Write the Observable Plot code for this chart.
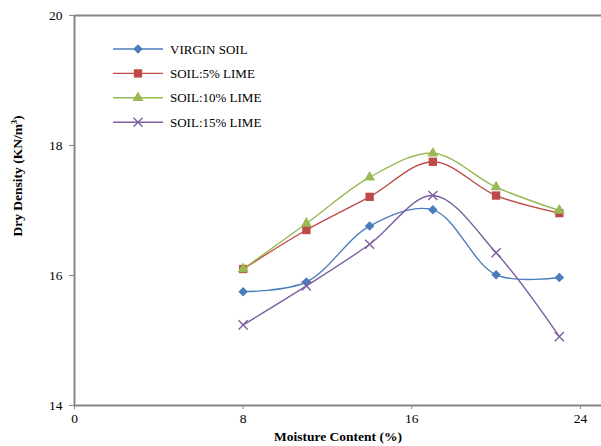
<!DOCTYPE html>
<html>
<head>
<meta charset="utf-8">
<script src="https://cdn.jsdelivr.net/npm/d3@7"></script>
<script src="https://cdn.jsdelivr.net/npm/@observablehq/plot@0.6"></script>
<style>
  html, body { margin: 0; padding: 0; background: #fff; }
  #chart { position: relative; width: 601px; height: 446px; }
</style>
</head>
<body>
<div id="chart"></div>
<script>
// Compaction results: dry density against moisture content
const moisture = [8, 11, 14, 17, 20, 23];
const virginSoil = [15.75, 15.90, 16.76, 17.01, 16.01, 15.97];
const lime5 = [16.10, 16.70, 17.21, 17.75, 17.23, 16.96];
const lime10 = [16.10, 16.80, 17.51, 17.88, 17.36, 17.00];
const lime15 = [15.24, 15.84, 16.48, 17.23, 16.35, 15.06];
const seriesNames = ["VIRGIN SOIL", "SOIL:5% LIME", "SOIL:10% LIME", "SOIL:15% LIME"];
const xTicks = [0, 8, 16, 24];
const yTicks = [14, 16, 18, 20];

const seriesStyle = [
  {values: virginSoil, color: "#4a7ebb", symbol: "diamond2", r: 4.3, filled: true},
  {values: lime5, color: "#be4b48", symbol: "square", r: 4.7, filled: true},
  {values: lime10, color: "#98b954", symbol: "triangle", r: 4.1, filled: true},
  {values: lime15, color: "#7d60a0", symbol: "times", r: 4.2, filled: false}
];

const rows = seriesStyle.flatMap((s, i) =>
  moisture.map((m, j) => ({series: seriesNames[i], x: m, y: s.values[j]})));

const axisGray = "#868686";

const marks = [
  Plot.ruleY([20], {stroke: axisGray, strokeWidth: 2}),
  Plot.axisX({ticks: xTicks, tickFormat: d => String(d), tickSize: 4, tickPadding: 4, stroke: axisGray, label: null, fontSize: 13.5}),
  Plot.axisY({ticks: yTicks, tickFormat: d => String(d), tickSize: 5, tickPadding: 7, stroke: axisGray, label: null, fontSize: 13.5}),
  Plot.ruleX([0], {stroke: axisGray, strokeWidth: 2}),
  Plot.ruleY([14], {stroke: axisGray, strokeWidth: 2})
];

seriesStyle.forEach((s, i) => {
  const data = rows.filter(d => d.series === seriesNames[i]);
  marks.push(Plot.line(data, {x: "x", y: "y", stroke: s.color, strokeWidth: 1.4, curve: "catmull-rom"}));
  marks.push(Plot.dot(data, s.filled
    ? {x: "x", y: "y", symbol: () => s.symbol, r: s.r, fill: s.color, stroke: "none"}
    : {x: "x", y: "y", symbol: () => s.symbol, r: s.r, stroke: s.color, strokeWidth: 1.4, fill: "none"}));
});

const chart = Plot.plot({
  width: 601,
  height: 446,
  marginLeft: 74,
  marginTop: 15,
  marginBottom: 41,
  marginRight: 0,
  style: {fontFamily: "'Liberation Serif', 'Times New Roman', serif", fontSize: "13.5px", color: "#000", background: "#fff"},
  x: {domain: [0, 25]},
  y: {domain: [14, 20]},
  symbol: {type: "identity"},
  marks
});

document.getElementById("chart").appendChild(chart);

// Axis titles and the in-plot legend
const svg = d3.select(chart);
const serif = "'Liberation Serif', 'Times New Roman', serif";

svg.append("text")
  .attr("x", 338).attr("y", 441)
  .attr("text-anchor", "middle")
  .attr("font-family", serif).attr("font-size", 13.5).attr("font-weight", "bold")
  .attr("fill", "#000")
  .text("Moisture Content (%)");

const yTitle = svg.append("text")
  .attr("transform", "translate(22,176) rotate(-90)")
  .attr("text-anchor", "middle")
  .attr("font-family", serif).attr("font-size", 13.5).attr("font-weight", "bold")
  .attr("fill", "#000");
yTitle.append("tspan").text("Dry Density (KN/m");
yTitle.append("tspan").attr("font-size", 8.5).attr("dy", -5).text("3");
yTitle.append("tspan").attr("dy", 5).text(")");

const legend = svg.append("g").attr("transform", "translate(113,49)");
seriesStyle.forEach((s, i) => {
  const g = legend.append("g").attr("transform", `translate(0,${i * 24.4})`);
  g.append("line").attr("x1", 0).attr("x2", 50).attr("y1", 0).attr("y2", 0)
    .attr("stroke", s.color).attr("stroke-width", 1.4);
  const symbolType = {diamond2: d3.symbolDiamond2, square: d3.symbolSquare, triangle: d3.symbolTriangle, times: d3.symbolTimes}[s.symbol];
  g.append("path")
    .attr("transform", "translate(25,0)")
    .attr("d", d3.symbol(symbolType, Math.PI * s.r * s.r)())
    .attr("fill", s.filled ? s.color : "none")
    .attr("stroke", s.filled ? "none" : s.color)
    .attr("stroke-width", 1.4);
  g.append("text")
    .attr("x", 57).attr("y", 0).attr("dy", "0.35em")
    .attr("text-anchor", "start")
    .attr("font-family", serif).attr("font-size", 13).attr("fill", "#000")
    .text(seriesNames[i]);
});
</script>
</body>
</html>
